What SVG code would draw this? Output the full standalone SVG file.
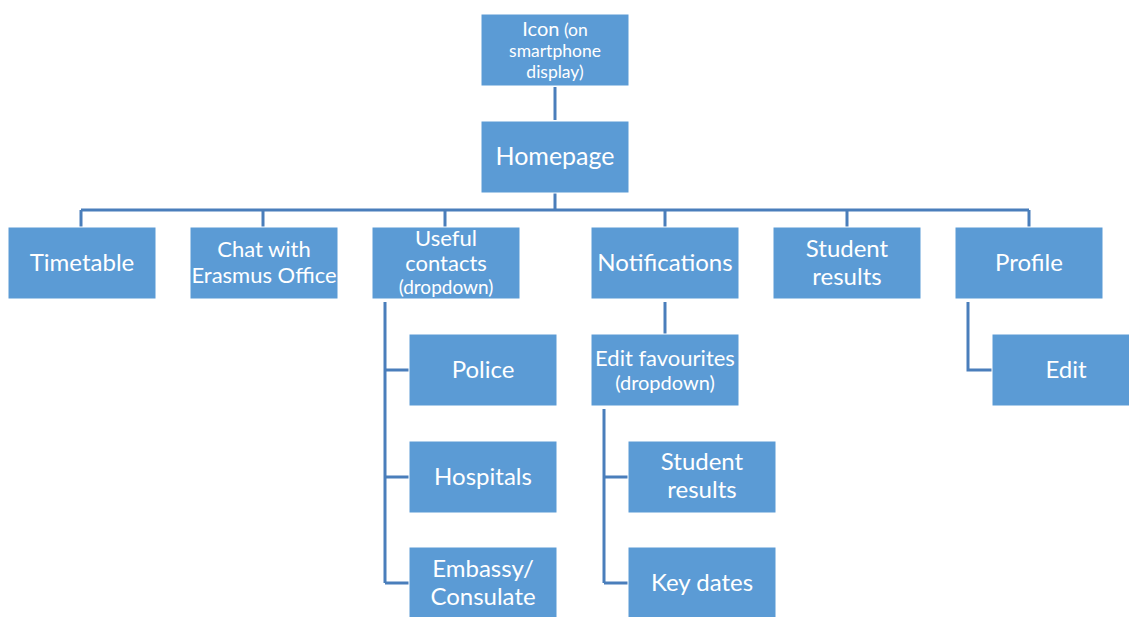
<svg xmlns="http://www.w3.org/2000/svg" width="1129" height="617" viewBox="0 0 1129 617">
<style>
.b{fill:#5B9BD5;stroke:#FFFFFF;stroke-width:1}
.t{fill:#FFFFFF;font-family:Lato,"Liberation Sans",sans-serif;text-anchor:middle;font-size:24px}
.m{font-size:22px}
.d{font-size:20px}
.s{font-size:17.5px}
.c{fill:none;stroke:#4A7EBB;stroke-width:3}
</style>
<rect width="1129" height="617" fill="#FFFFFF"/>
<g id="connectors">
<path class="c" d="M555 87V120"/>
<path class="c" d="M555 193V210M81 210H1029M81 210V227M263 210V227M445 210V227M665 210V227M847 210V227M1029 210V227"/>
<path class="c" d="M385 302V583M385 370H409M385 477H409M385 583H409"/>
<path class="c" d="M665 302V334"/>
<path class="c" d="M604 409V583M604 477H628M604 583H628"/>
<path class="c" d="M968 302V370H992"/>
</g>
<g id="icon"><rect class="b" x="481" y="14" width="148" height="72"/><text class="t" x="555" y="36"><tspan class="d">Icon</tspan><tspan class="s"> (on</tspan></text><text class="t s" x="555" y="57">smartphone</text><text class="t s" x="555" y="78">display)</text></g>
<g id="homepage"><rect class="b" x="481" y="121" width="148" height="72"/><text class="t" x="555" y="165" style="font-size:25px">Homepage</text></g>
<g id="timetable"><rect class="b" x="8" y="227" width="148" height="72"/><text class="t" x="82" y="271">Timetable</text></g>
<g id="chat"><rect class="b" x="190" y="227" width="148" height="72"/><text class="t m" x="264" y="257">Chat with</text><text class="t m" x="264" y="283">Erasmus Office</text></g>
<g id="useful"><rect class="b" x="372" y="227" width="148" height="72"/><text class="t"><tspan class="m" x="446" y="246">Useful</tspan><tspan class="m" x="446" y="271">contacts</tspan><tspan x="446" y="294" style="font-size:19px">(dropdown)</tspan></text></g>
<g id="notifications"><rect class="b" x="591" y="227" width="148" height="72"/><text class="t" x="665" y="271">Notifications</text></g>
<g id="results"><rect class="b" x="773" y="227" width="148" height="72"/><text class="t" x="847" y="257">Student</text><text class="t" x="847" y="285">results</text></g>
<g id="profile"><rect class="b" x="955" y="227" width="148" height="72"/><text class="t" x="1029" y="271">Profile</text></g>
<g id="police"><rect class="b" x="409" y="334" width="148" height="72"/><text class="t" x="483" y="378">Police</text></g>
<g id="favourites"><rect class="b" x="591" y="334" width="148" height="72"/><text class="t m" x="665" y="366">Edit favourites</text><text class="t d" x="665" y="390">(dropdown)</text></g>
<g id="edit"><rect class="b" x="992" y="334" width="148" height="72"/><text class="t" x="1066" y="378">Edit</text></g>
<g id="hospitals"><rect class="b" x="409" y="441" width="148" height="72"/><text class="t" x="483" y="485">Hospitals</text></g>
<g id="results2"><rect class="b" x="628" y="441" width="148" height="72"/><text class="t" x="702" y="470">Student</text><text class="t" x="702" y="498">results</text></g>
<g id="embassy"><rect class="b" x="409" y="547" width="148" height="72"/><text class="t" x="483" y="577">Embassy/</text><text class="t" x="483" y="605">Consulate</text></g>
<g id="keydates"><rect class="b" x="628" y="547" width="148" height="72"/><text class="t" x="702" y="591">Key dates</text></g>
</svg>
